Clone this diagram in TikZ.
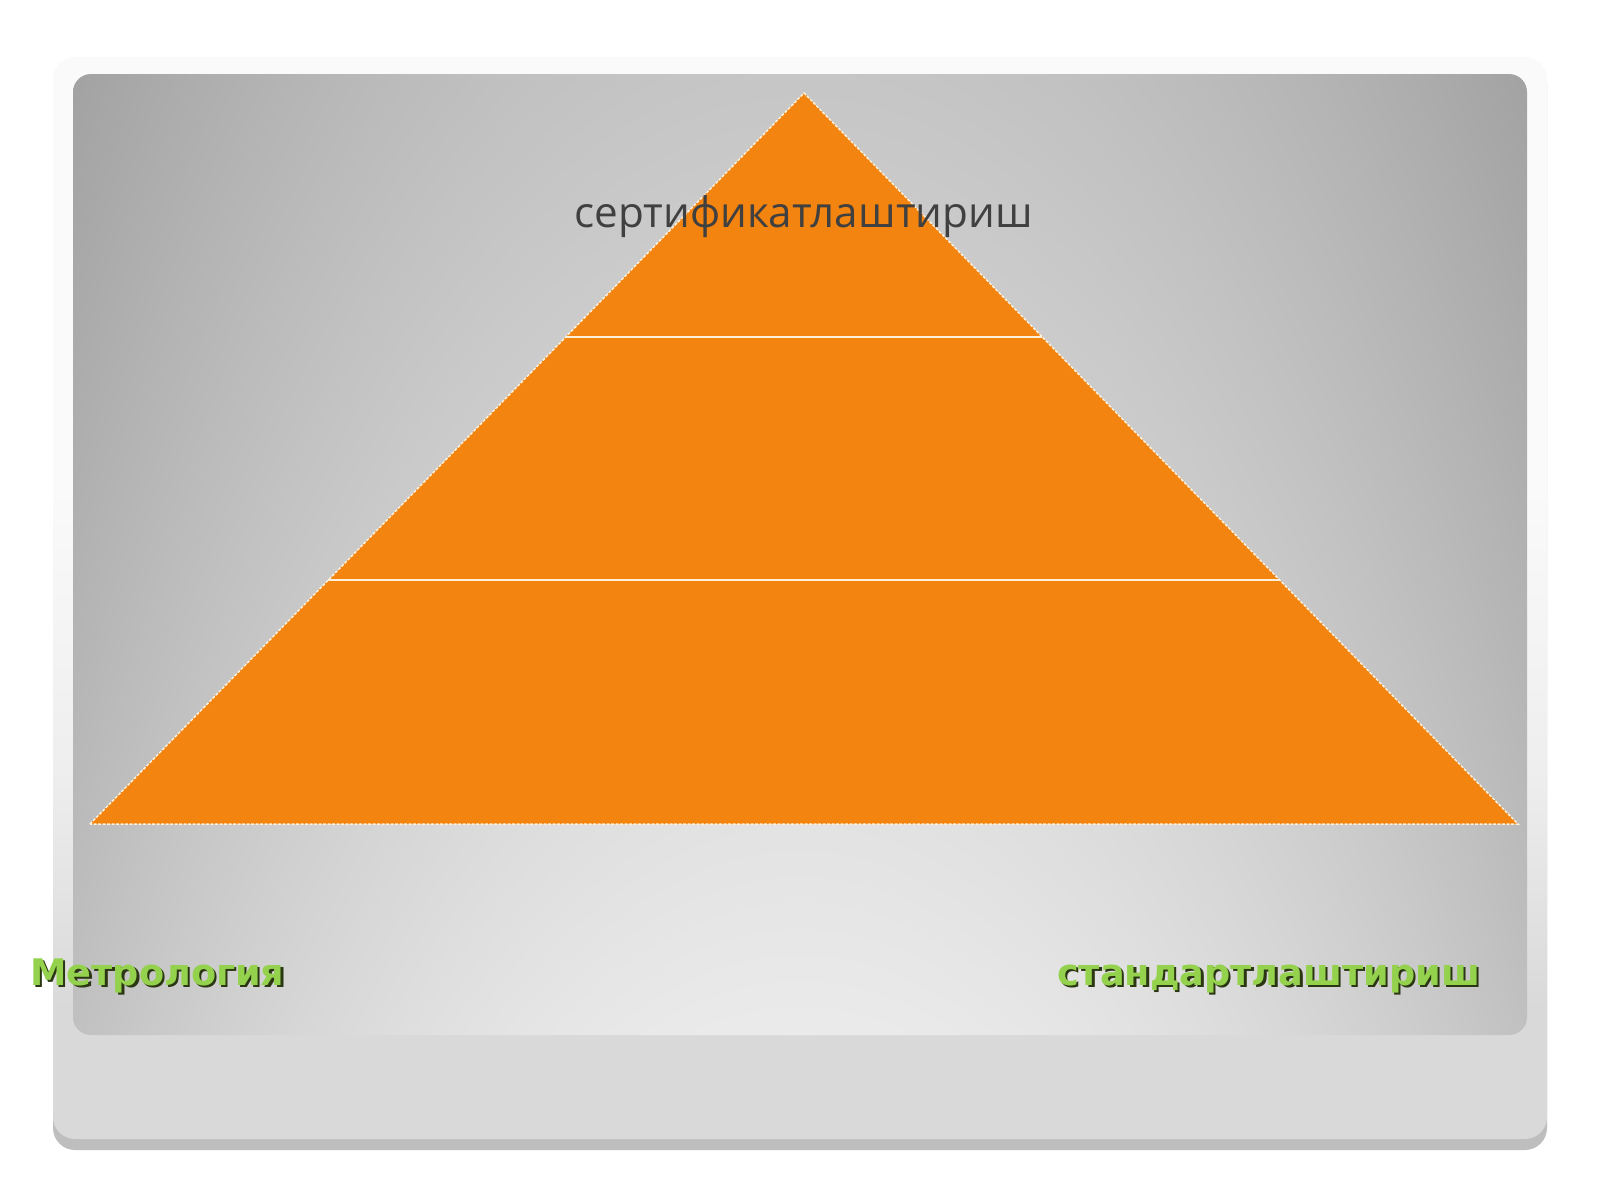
\documentclass[tikz,border=0pt]{standalone}
\usepackage{fontspec}
\setmainfont{Open Sans}
\newfontfamily\lblfont{DejaVu Sans}
\usetikzlibrary{calc}

\definecolor{pyrorange}{HTML}{F2840F}
\definecolor{edgecream}{HTML}{FFF0DA}
\definecolor{txtgray}{HTML}{404040}
\definecolor{lblgreen}{HTML}{94D24E}
\definecolor{lblshadow}{HTML}{2B3612}
\definecolor{frTop}{HTML}{FAFAFA}
\definecolor{frMid}{HTML}{EEEEEE}
\definecolor{frBot}{HTML}{D9D9D9}
\definecolor{frShadow}{HTML}{BEBEBE}

% frame: path bbox is mapped to 25bp..75bp of the shading
\pgfdeclareverticalshading{framesh}{100bp}{color(0bp)=(frBot); color(25bp)=(frBot); color(31bp)=(frBot); color(42bp)=(frMid); color(55bp)=(frTop); color(75bp)=(frTop); color(100bp)=(frTop)}

% panel: gray level = vertical term times side darkening
\pgfdeclarefunctionalshading{panelfn}{\pgfpointorigin}{\pgfpoint{100bp}{100bp}}{}{
  25 sub 50 div 0.145 mul 0.92 exch sub
  exch 50 sub abs 25 div dup mul 0.18 mul 1 exch sub
  mul dup dup
}

\tikzset{
  pyrpart/.style={fill=pyrorange, draw=none},
  pyredge/.style={draw=edgecream, line width=1.5pt, dash pattern=on 3pt off 1.5pt},
  pyrdiv/.style={draw=edgecream, line width=2pt},
  toptext/.style={inner sep=0pt, anchor=base, text=txtgray, font=\fontsize{42.2}{50}\selectfont},
  greenlbl/.style={inner sep=0pt, anchor=base, text=lblgreen, font=\lblfont\bfseries\fontsize{36.6}{44}\selectfont},
  greenshadow/.style={inner sep=0pt, anchor=base, text=lblshadow, font=\lblfont\bfseries\fontsize{36.6}{44}\selectfont}
}

\begin{document}
\begin{tikzpicture}[x=1pt,y=1pt]
  \useasboundingbox (0,0) rectangle (1600,-1200);
  \fill[white] (0,0) rectangle (1600,-1200);

  % outer frame with bottom shadow
  \fill[frShadow, rounded corners=22pt] (53,-62) rectangle (1547,-1150);
  \shade[shading=framesh, rounded corners=22pt] (53,-57) rectangle (1547,-1139);

  % inner gray panel
  \shade[shading=panelfn, rounded corners=18pt] (73,-74) rectangle (1527,-1035);

  % pyramid
  \coordinate (apex) at (804,-93);
  \coordinate (bl) at (90,-824);
  \coordinate (br) at (1518,-824);
  \coordinate (l1) at ($(apex)!1/3!(bl)$);
  \coordinate (r1) at ($(apex)!1/3!(br)$);
  \coordinate (l2) at ($(apex)!2/3!(bl)$);
  \coordinate (r2) at ($(apex)!2/3!(br)$);

  \fill[pyrpart] (apex) -- (bl) -- (br) -- cycle;
  \draw[pyredge] (bl) -- (apex) -- (br) -- (bl);
  \draw[pyrdiv] (l1) -- (r1);
  \draw[pyrdiv] (l2) -- (r2);

  % texts
  \node[toptext] (cert) at (803.5,-227) {сертификатлаштириш};

  \node[greenshadow] (metshadow) at (160,-987.5) {Метрология};
  \node[greenlbl] (met) at (157.5,-985) {Метрология};
  \node[greenshadow] (stdshadow) at (1271,-987.5) {стандартлаштириш};
  \node[greenlbl] (std) at (1268.5,-985) {стандартлаштириш};
\end{tikzpicture}
\end{document}
